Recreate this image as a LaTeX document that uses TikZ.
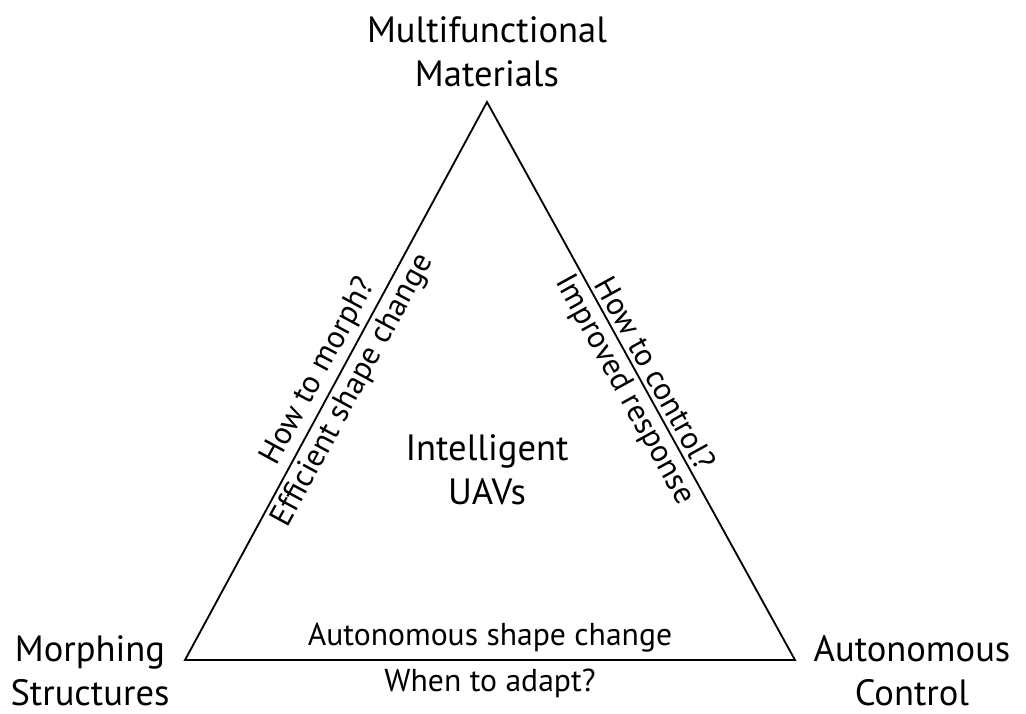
\documentclass[tikz,border=0pt]{standalone}
\usepackage{fontspec}
\setmainfont{PT Sans}

\begin{document}
\begin{tikzpicture}[x=0.025cm, y=-0.025cm,
        every node/.style={align=center, inner sep=0pt},
        corner/.style={font=\fontsize{26}{31}\selectfont},
        sidelbl/.style={font=\fontsize{22.5}{26}\selectfont, sloped}]
      \useasboundingbox (0,0) rectangle (1026,713);
      % corners of the triangle
      \coordinate (mat) at (487,102);
      \coordinate (mor) at (185,660);
      \coordinate (con) at (795,660);
      \node[corner] (matlbl) at (487,52) {Multifunctional\\Materials};
      \node[corner] (morlbl) at (90,671) {Morphing\\Structures};
      \node[corner] (conlbl) at (912,671) {Autonomous\\Control};
      \node[corner] (uav) at (487,470) {Intelligent\\UAVs};
      \draw[line width=1.3pt, line join=miter]
        (mor) -- node[sidelbl, above=3pt] {How to morph?}
                 node[sidelbl, below=3pt] {Efficient shape change} (mat)
              -- node[sidelbl, above=3pt] {How to control?}
                 node[sidelbl, below=3pt] {Improved response} (con)
              -- cycle;
      \path (mor) -- node[sidelbl, above=5pt] {Autonomous shape change}
                     node[sidelbl, below=6pt] {When to adapt?} (con);
    \end{tikzpicture}
\end{document}
